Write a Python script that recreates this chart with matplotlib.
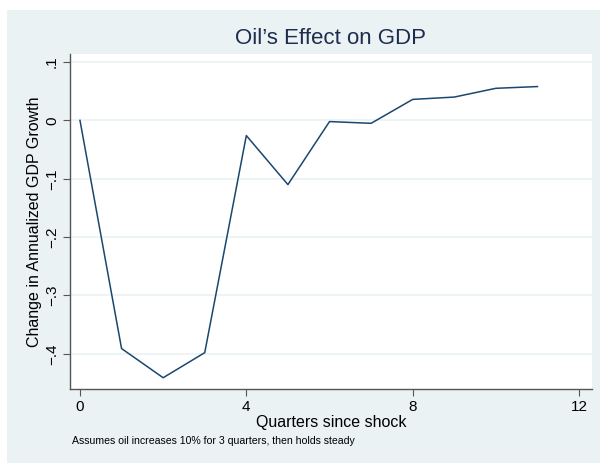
import matplotlib.pyplot as plt
from matplotlib.patches import Rectangle
import numpy as np

quarters = [0, 1, 2, 3, 4, 5, 6, 7, 8, 9, 10, 11]
gdp_effect = [0.0, -0.391, -0.441, -0.398, -0.026, -0.110, -0.002, -0.005, 0.036, 0.040, 0.055, 0.058]
y_ticks = [-0.4, -0.3, -0.2, -0.1, 0, 0.1]
y_labels = ["\u2212.4", "\u2212.3", "\u2212.2", "\u2212.1", "0", ".1"]
x_ticks = [0, 4, 8, 12]

plt.rcParams['font.family'] = ['Liberation Sans', 'DejaVu Sans']

W, H = 600, 463
fig = plt.figure(figsize=(6, 4.63), dpi=100, facecolor='white')
bg = '#eaf2f3'
fig.patches.append(Rectangle((7 / W, 0), 1 - 7 / W, 1 - 10 / H, transform=fig.transFigure,
                             facecolor=bg, edgecolor='none', zorder=-1))

ax = fig.add_axes([70 / W, 1 - 389 / H, (591.5 - 70) / W, (389 - 54) / H])
ax.set_facecolor('white')
ax.plot(quarters, gdp_effect, color='#1a476f', linewidth=1.1)

ax.set_xlim(-0.24, 12.3)
ax.set_ylim(-0.4603, 0.1138)
ax.set_xticks(x_ticks)
ax.set_yticks(y_ticks)
ax.set_yticklabels(y_labels, rotation=90, va='center')
ax.grid(axis='y', color=bg, linewidth=1.2)
ax.set_axisbelow(True)

for side in ['top', 'right']:
    ax.spines[side].set_visible(False)
for side in ['left', 'bottom']:
    ax.spines[side].set_color('#555555')
    ax.spines[side].set_linewidth(1.0)
ax.tick_params(length=5, color='#555555', labelsize=11, pad=3)

ax.set_xlabel("Quarters since shock", fontsize=11.5, labelpad=1)
ax.set_ylabel("Change in Annualized GDP Growth", fontsize=11.5, labelpad=2)
fig.text(0.5 * (70 + 591.5) / W, 1 - 38 / H, "Oil\u2019s Effect on GDP", fontsize=16,
         color='#1e2d4f', ha='center', va='center')
fig.text(72 / W, 1 - 441 / H, "Assumes oil increases 10% for 3 quarters, then holds steady",
         fontsize=7.6, ha='left', va='center')

fig.savefig('out.png', dpi=100, facecolor=fig.get_facecolor())
